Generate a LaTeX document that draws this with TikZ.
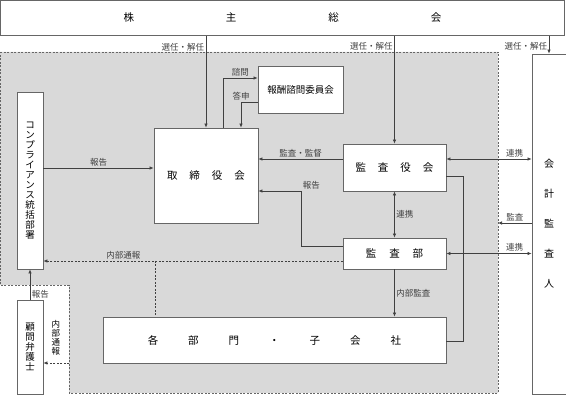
\documentclass[tikz,border=0pt]{standalone}
\usepackage{fontspec}
\setmainfont{Noto Sans CJK JP}
\usetikzlibrary{arrows.meta}

\begin{document}
\begin{tikzpicture}[x=1pt, y=-1pt, >={Latex[length=4pt,width=3.5pt]},
	every node/.style={font=\fontsize{8.5}{10}\selectfont},
	box/.style={draw=black!60, fill=white, line width=0.8pt, inner sep=0pt, font=\fontsize{10.5}{12}\selectfont},
	conn/.style={black!75, line width=0.7pt},
	dashline/.style={dash pattern=on 2pt off 1.5pt},
	lbl/.style={inner sep=1.5pt}]
	\useasboundingbox (0,0) rectangle (566,395);
	% shaded area
	\draw[fill=black!15, draw=black!60, line width=0.6pt, dashline] (0,52) -- (498,52) -- (498,393) -- (69,393) -- (69,285) -- (0,285) -- cycle;
	% boxes
	\node[box, minimum width=564, minimum height=35] (soukai) at (282.5,18) {株\hspace{92pt}主\hspace{92pt}総\hspace{92pt}会};
	\node[box, minimum width=26, minimum height=177, align=center, font=\fontsize{9.5}{10}\selectfont] (comp) at (30,180.5) {コ\\ン\\プ\\ラ\\イ\\ア\\ン\\ス\\統\\括\\部\\署};
	\node[box, minimum width=104, minimum height=95] (tori) at (206,175.5) {取\hspace{12pt}締\hspace{12pt}役\hspace{12pt}会};
	\node[box, minimum width=85, minimum height=47, font=\fontsize{9.5}{11}\selectfont] (hoshu) at (300.5,89.5) {報酬諮問委員会};
	\node[box, minimum width=103, minimum height=47] (kansayaku) at (394.5,167.5) {監\hspace{12pt}査\hspace{12pt}役\hspace{12pt}会};
	\node[box, minimum width=103, minimum height=31] (kansabu) at (394.5,253.5) {監\hspace{13pt}査\hspace{13pt}部};
	\node[box, minimum width=343, minimum height=46] (kakubu) at (274.5,340) {各\hspace{30pt}部\hspace{30pt}門\hspace{30pt}・\hspace{30pt}子\hspace{30pt}会\hspace{30pt}社};
	\node[box, minimum width=34, minimum height=340, align=center, font=\fontsize{10}{30}\selectfont] (kaikei) at (549,224) {会\\計\\監\\査\\人};
	\node[box, minimum width=26, minimum height=94, align=center, font=\fontsize{9.5}{10}\selectfont] (komon) at (30,347) {顧\\問\\弁\\護\\士};
	% appointment
	\draw[conn,->] (tori.north |- soukai.south) -- node[lbl, anchor=east, pos=0.12] {選任・解任} (tori.north);
	\draw[conn,->] (kansayaku.north |- soukai.south) -- node[lbl, anchor=east, pos=0.1] {選任・解任} (kansayaku.north);
	\draw[conn,->] (kaikei.north |- soukai.south) -- node[lbl, anchor=east, pos=0.6] {選任・解任} (kaikei.north);
	% board and committee
	\draw[conn,->] ([xshift=17pt]tori.north) |- node[lbl, above, pos=0.75] {諮問} ([yshift=11.5pt]hoshu.west);
	\draw[conn,->] ([yshift=-12.5pt]hoshu.west) -| node[lbl, above, pos=0.5] {答申} ([xshift=35pt]tori.north);
	\draw[conn,->] (comp.east |- 0,168) -- node[lbl, above] {報告} (tori.west |- 0,168);
	\draw[conn,->] (kansayaku.west |- 0,159) -- node[lbl, above] {監査・監督} (tori.east |- 0,159);
	\draw[conn,->] (kansabu.west |- 0,246) -| (301,191) node[lbl, anchor=south west] {報告} -- (tori.east |- 0,191);
	\draw[conn] (kansayaku.east |- 0,176) -| (463,341) -- (kakubu.east |- 0,341);
	% auditors
	\draw[conn,<->] (kansayaku.east |- 0,159) -- node[lbl, above, pos=0.8] {連携} (kaikei.west |- 0,159);
	\draw[conn,->] (kaikei.west |- 0,223) -- node[lbl, above] {監査} (498,223);
	\draw[conn,<->] (kansabu.east) -- node[lbl, above, pos=0.8] {連携} (kaikei.west |- kansabu.east);
	\draw[conn,<->] (kansayaku.south) -- node[lbl, right] {連携} (kansabu.north);
	\draw[conn,->] (kansabu.south) -- node[lbl, right] {内部監査} (kansabu.south |- kakubu.north);
	% whistleblowing
	\draw[conn,dashline,->] (kansabu.west |- 0,261) -- node[lbl, above, pos=0.733] {内部通報} (comp.east |- 0,261);
	\draw[conn,dashline] (155,261) -- (kakubu.north -| 155,261);
	\draw[conn,->] (komon.north) -- node[lbl, right, pos=0.16] {報告} (comp.south);
	\draw[conn,dashline,->] (69,363) -- (komon.east |- 0,363);
	\node[lbl, align=center, font=\fontsize{8.5}{9}\selectfont] (tsuho) at (56,338) {内\\部\\通\\報};
\end{tikzpicture}
\end{document}
